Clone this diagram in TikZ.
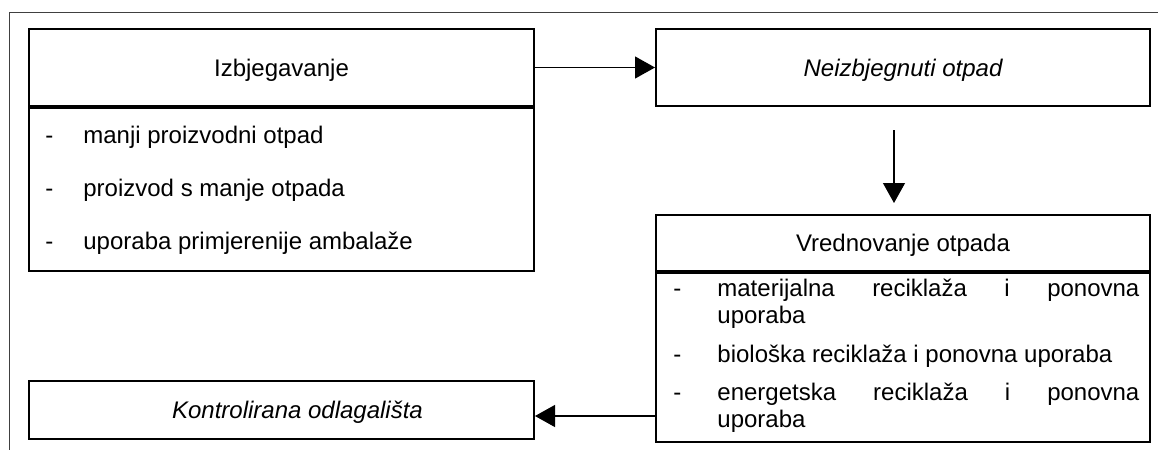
\documentclass[tikz,border=0pt]{standalone}
\usepackage{fontspec}
\setmainfont{Liberation Sans}
\usetikzlibrary{positioning,arrows.meta}
\hyphenpenalty=10000

\begin{document}
\begin{tikzpicture}[x=0.5pt,y=-0.5pt]
                    \tikzstyle{box}=[draw,line width=1pt,inner sep=0pt,text depth=0pt,font=\fontsize{12}{13.8}\selectfont]
                    \tikzstyle{item}=[anchor=base west,inner sep=0pt,font=\fontsize{12}{13.8}\selectfont]
                    \tikzstyle{para}=[item,text width=211pt,align=justify]
                    \tikzstyle{link}=[line width=0.6pt,-{Triangle[length=10pt,width=11pt]}]
                    \useasboundingbox (0,0) rectangle (1158,450);
                    \draw [line width=0.5pt,black!75] (9,450) -- (9,12) -- (1158,12);

                    \node (izb) at (281.5,67.5) [box,minimum width=252.5pt,minimum height=38.5pt] {Izbjegavanje};
                    \node (izbl) [box,minimum width=252.5pt,minimum height=81.5pt,below=0pt of izb] {};
                    \node (neiz) at (903,67.5) [box,minimum width=247pt,minimum height=38.5pt] {\itshape Neizbjegnuti otpad};
                    \node (vred) at (903,243) [box,minimum width=247pt,minimum height=28pt] {Vrednovanje otpada};
                    \node (vredl) [box,minimum width=247pt,minimum height=84.5pt,below=0pt of vred] {};
                    \node (kontr) at (281.5,410) [box,minimum width=252.5pt,minimum height=29pt] {\hspace*{16pt}\itshape Kontrolirana odlagališta};

                    \node (i1) at (45,143) [item] {\makebox[19pt][l]{-}manji proizvodni otpad};
                    \node (i2) at (45,196) [item] {\makebox[19pt][l]{-}proizvod s manje otpada};
                    \node (i3) at (45,249) [item] {\makebox[19pt][l]{-}uporaba primjerenije ambalaže};

                    \node (m1) at (673,296) [item] {-};
                    \node (m2) at (673,362) [item] {-};
                    \node (m3) at (673,400) [item] {-};
                    \node (v1) at (717,296) [para] {materijalna reciklaža i ponovna\linebreak uporaba};
                    \node (v2) at (717,362) [para] {biološka reciklaža i ponovna uporaba};
                    \node (v3) at (717,400) [para] {energetska reciklaža i ponovna\linebreak uporaba};

                    \coordinate (d1) at (894,130);
                    \coordinate (d2) at (894,203);
                    \coordinate (b1) at (656,416);

                    \draw [link] (izb.east) -- (neiz.west);
                    \draw [link] (d1) -- (d2);
                    \draw [link] (b1) -- (b1 -| kontr.east);
                \end{tikzpicture}
\end{document}
